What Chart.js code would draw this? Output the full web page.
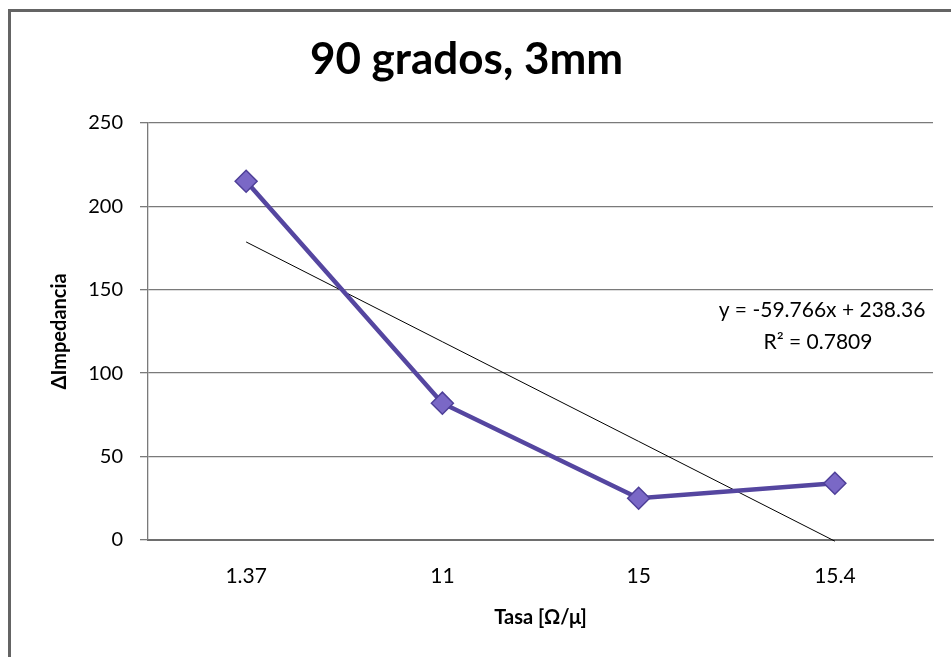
<!DOCTYPE html>
<html>
<head>
<meta charset="utf-8">
<title>90 grados, 3mm</title>
<script src="https://cdn.jsdelivr.net/npm/chart.js@4"></script>
<style>
  html, body { margin: 0; padding: 0; background: #ffffff; }
  #wrap { width: 951px; height: 657px; position: relative; }
</style>
</head>
<body>
<div id="wrap"><canvas id="chart"></canvas></div>
<script>
// --- Data ---
const categories = ['1.37', '11', '15', '15.4'];
const impedance = [215, 82, 25, 34];
// linear trendline (starts ~179 at 1.37, reaches ~0 at 15.4)
const trendValues = [178.6, 118.8, 59.1, -0.7];
const yTicks = [0, 50, 100, 150, 200, 250];
const equationLines = ['y = -59.766x + 238.36', 'R\u00b2 = 0.7809'];

const FONT = 'Lato, "Open Sans", sans-serif';

// outer frame like the Excel chart border
const framePlugin = {
    id: 'frame',
    beforeDraw(chart) {
        const ctx = chart.ctx;
        ctx.save();
        ctx.fillStyle = '#ffffff';
        ctx.fillRect(0, 0, chart.width, chart.height);
        ctx.strokeStyle = '#646464';
        ctx.lineWidth = 3;
        ctx.beginPath();
        ctx.moveTo(9.5, chart.height + 5);
        ctx.lineTo(9.5, 10.5);
        ctx.lineTo(chart.width + 5, 10.5);
        ctx.stroke();
        ctx.restore();
    }
};

// trendline equation label
const equationPlugin = {
    id: 'equation',
    afterDatasetsDraw(chart) {
        const ctx = chart.ctx;
        const area = chart.chartArea;
        ctx.save();
        ctx.fillStyle = '#000000';
        ctx.font = '21px ' + FONT;
        ctx.textAlign = 'center';
        ctx.textBaseline = 'middle';
        const cx = area.right - 111;
        ctx.fillText(equationLines[0], cx, area.top + 187);
        ctx.fillText(equationLines[1], cx - 4, area.top + 219);
        ctx.restore();
    }
};

const ctx = document.getElementById('chart').getContext('2d');
new Chart(ctx, {
    type: 'line',
    data: {
        labels: categories,
        datasets: [
            {
                label: 'ΔImpedancia',
                data: impedance,
                borderColor: '#5546a0',
                borderWidth: 4.5,
                pointStyle: 'rectRot',
                pointRadius: 11,
                pointBackgroundColor: '#7a68c6',
                pointBorderColor: '#4e3f98',
                pointBorderWidth: 1.5,
                tension: 0,
                order: 1
            },
            {
                label: 'Lineal',
                data: trendValues,
                borderColor: '#000000',
                borderWidth: 1,
                pointRadius: 0,
                tension: 0,
                clip: false,
                order: 2
            }
        ]
    },
    options: {
        responsive: true,
        maintainAspectRatio: false,
        animation: false,
        layout: { padding: { left: 0, right: 18, top: 0, bottom: 0 } },
        plugins: {
            legend: { display: false },
            tooltip: { enabled: false },
            title: {
                display: true,
                text: '90 grados, 3mm',
                color: '#000000',
                font: { family: FONT, size: 44, weight: 'bold' },
                padding: { top: 33, bottom: 37 }
            }
        },
        scales: {
            x: {
                offset: true,
                grid: { display: false, drawTicks: false, offset: true },
                border: { display: true, color: '#6e6e6e', width: 2 },
                ticks: {
                    color: '#000000',
                    padding: 24,
                    maxRotation: 0,
                    font: { family: FONT, size: 21 }
                },
                title: {
                    display: true,
                    text: 'Tasa [Ω/μ]',
                    color: '#000000',
                    font: { family: FONT, size: 20, weight: 'bold' },
                    padding: { top: 0, bottom: 27 }
                },
                afterFit(scale) { scale.height = 117; }
            },
            y: {
                min: 0,
                max: 250,
                afterBuildTicks(scale) {
                    scale.ticks = yTicks.map(v => ({ value: v }));
                },
                grid: {
                    color: '#7a7a7a',
                    lineWidth: 1.3,
                    tickLength: 8
                },
                border: { display: true, color: '#7a7a7a', width: 1.3 },
                ticks: {
                    color: '#000000',
                    padding: 17,
                    font: { family: FONT, size: 20 }
                },
                title: {
                    display: true,
                    text: 'ΔImpedancia',
                    color: '#000000',
                    font: { family: FONT, size: 20, weight: 'bold' },
                    padding: { top: 48, bottom: 0 }
                },
                afterFit(scale) { scale.width = 148; }
            }
        }
    },
    plugins: [framePlugin, equationPlugin]
});
</script>
</body>
</html>
